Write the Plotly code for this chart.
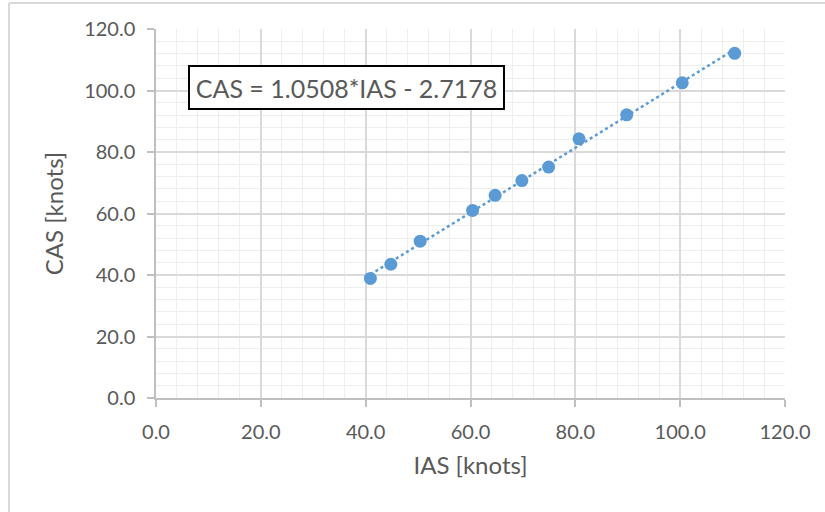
import numpy as np
import plotly.graph_objects as go

# Data
ias = [40.9, 44.8, 50.4, 60.4, 64.7, 69.8, 74.9, 80.7, 89.8, 100.4, 110.4]
cas = [38.9, 43.5, 51.0, 61.0, 65.9, 70.7, 75.1, 84.3, 92.1, 102.5, 112.1]
equation_label = "CAS = 1.0508*IAS - 2.7178"
x_title = "IAS [knots]"
y_title = "CAS [knots]"

# Linear trendline fitted to the points (spans the data range)
slope, intercept = np.polyfit(ias, cas, 1)
trend_x = [min(ias), max(ias)]
trend_y = [slope * v + intercept for v in trend_x]

blue = "#5b9bd5"
text_grey = "#595959"
font_family = "Lato, 'Open Sans', sans-serif"

fig = go.Figure()
fig.add_trace(go.Scatter(
    x=trend_x, y=trend_y, mode="lines",
    line=dict(color=blue, width=2.5, dash="dot"),
    hoverinfo="skip", showlegend=False,
))
fig.add_trace(go.Scatter(
    x=ias, y=cas, mode="markers",
    marker=dict(color=blue, size=13, line=dict(width=0)),
    showlegend=False,
))

axis_common = dict(
    range=[0, 120], dtick=20, tick0=0, tickformat=".1f",
    showgrid=True, gridcolor="#d9d9d9", gridwidth=1.5,
    minor=dict(dtick=4, showgrid=True, gridcolor="#eeeeee", gridwidth=1),
    showline=True, linecolor="#bfbfbf", linewidth=1.5,
    ticks="outside", ticklen=7, tickcolor="#bfbfbf", tickwidth=1.5,
    zeroline=False, ticklabelstandoff=8,
    tickfont=dict(family=font_family, size=20, color=text_grey),
)

fig.update_layout(
    width=825, height=512,
    margin=dict(l=156, r=40, t=29, b=114),
    paper_bgcolor="white", plot_bgcolor="white",
    font=dict(family=font_family, color=text_grey),
    xaxis=dict(**axis_common,
               title=dict(text=x_title, font=dict(family=font_family, size=24, color=text_grey), standoff=15)),
    yaxis=dict(**axis_common,
               title=dict(text=y_title, font=dict(family=font_family, size=24, color=text_grey), standoff=14)),
    annotations=[dict(
        x=36.4, y=101.0, xref="x", yref="y",
        text=equation_label, showarrow=False,
        font=dict(family=font_family, size=25, color=text_grey),
        bgcolor="white", bordercolor="black", borderwidth=2, borderpad=4,
        width=305, height=33, align="center",
    )],
    shapes=[
        dict(type="line", xref="paper", yref="paper",
             x0=-0.2337, x1=-0.2337, y0=1.0705, y1=-1.0,
             line=dict(color="#d9d9d9", width=2)),
        dict(type="line", xref="paper", yref="paper",
             x0=-0.2337, x1=2.0, y0=1.0705, y1=1.0705,
             line=dict(color="#d9d9d9", width=2)),
    ],
)

fig.write_html("out.html", config={"displayModeBar": False},
               post_script="document.body.style.margin='0';")
